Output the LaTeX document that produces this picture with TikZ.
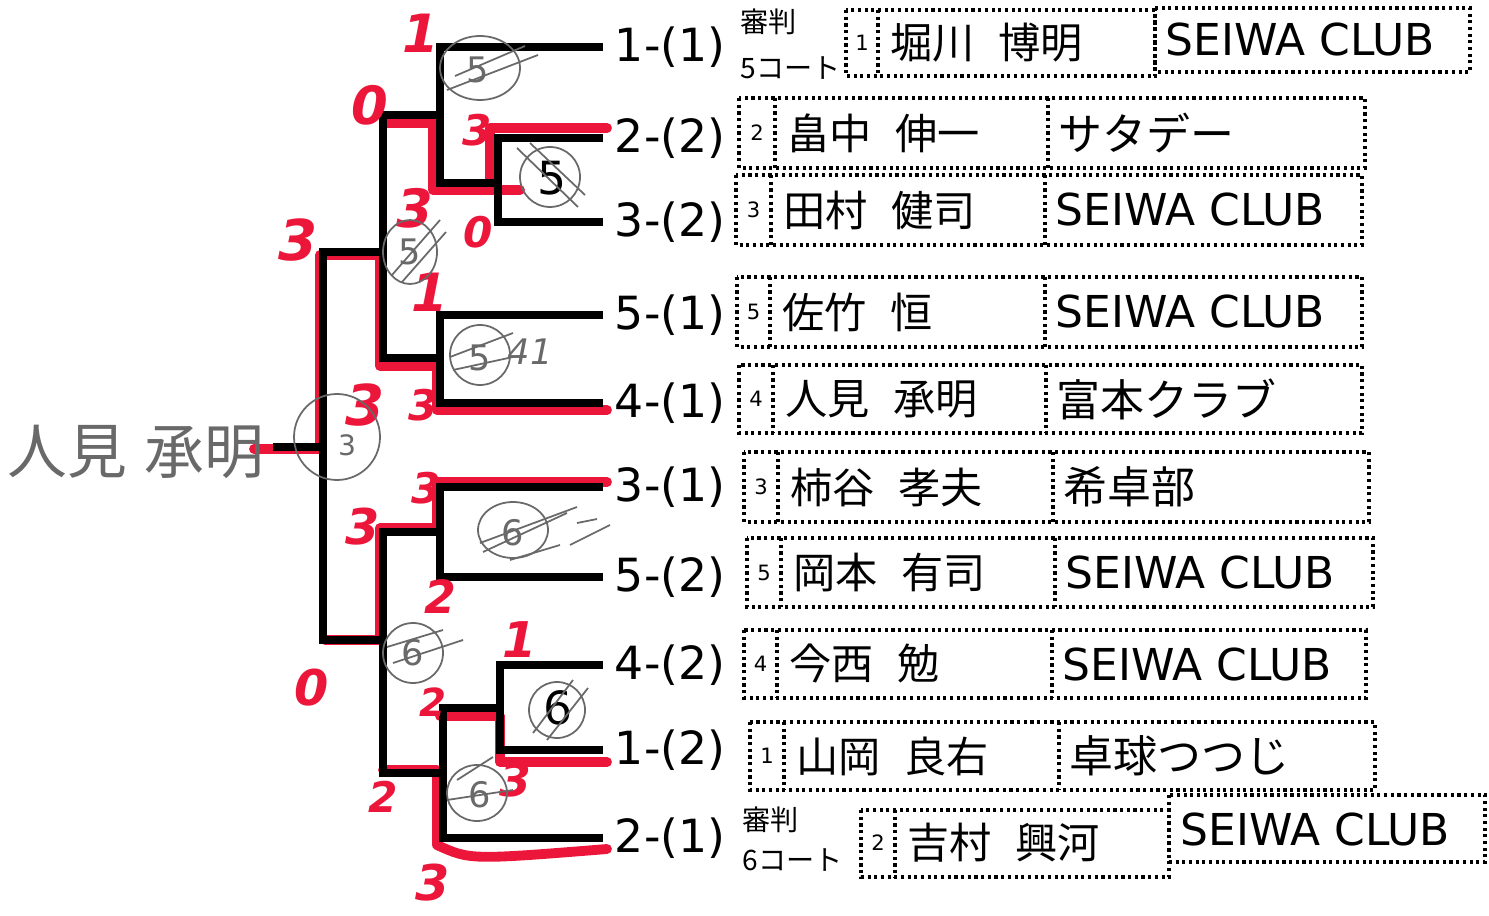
\documentclass[tikz,border=0pt]{standalone}
\usepackage{fontspec}
\setmainfont{DejaVu Sans}
\newfontfamily\jp{Noto Sans CJK JP}
\usepackage{tikz}
\usetikzlibrary{calc}
\definecolor{marker}{RGB}{236,22,58}
\definecolor{pencil}{RGB}{105,105,105}
\newcommand\gap{\hspace{.55em}}

\tikzset{
  bk/.style={line width=2pt},
  rd/.style={marker, line width=2.8pt, line cap=round, line join=round},
  box/.style={densely dotted, line width=.9pt},
  lbl/.style={anchor=west, inner xsep=3.2pt, inner ysep=0pt, font=\fontsize{13}{13}\selectfont},
  seed/.style={inner sep=0pt, font=\fontsize{6}{6}\selectfont},
  nm/.style={anchor=west, inner sep=0pt, font=\jp\fontsize{12}{13}\selectfont},
  club/.style={anchor=west, inner sep=0pt, font=\fontsize{12.5}{13}\selectfont},
  refnote/.style={anchor=west, inner sep=0pt, font=\jp\fontsize{8}{9}\selectfont},
  score/.style={marker, inner sep=0pt, font=\bfseries\itshape},
  pen/.style={pencil, line width=.5pt},
  pentxt/.style={pencil, inner sep=0pt, font=\fontsize{10}{10}\selectfont},
}

\begin{document}
\begin{tikzpicture}[x=0.01cm, y=-0.01cm]
    \useasboundingbox (0,0) rectangle (1489,916);

    % draw labels
    \node[lbl] (l1) at (603,47) {1-(1)};
    \node[lbl] (l2) at (603,138) {2-(2)};
    \node[lbl] (l3) at (603,222) {3-(2)};
    \node[lbl] (l4) at (603,315) {5-(1)};
    \node[lbl] (l5) at (603,403) {4-(1)};
    \node[lbl] (l6) at (603,487) {3-(1)};
    \node[lbl] (l7) at (603,577) {5-(2)};
    \node[lbl] (l8) at (603,665) {4-(2)};
    \node[lbl] (l9) at (603,750) {1-(2)};
    \node[lbl] (l10) at (603,838) {2-(1)};

    \coordinate (j23) at (498,183);
    \coordinate (q1) at (440,115);
    \coordinate (q2) at (440,358);
    \coordinate (s1) at (383,252);
    \coordinate (q3) at (440,532);
    \coordinate (j89) at (500,708);
    \coordinate (q4) at (443,773);
    \coordinate (s2) at (383,640);
    \coordinate (f) at (323,447);
    \coordinate (w) at (273,447);

    % marker
    \draw[rd] (607,128) -- (490,128) -- (490,190);
    \draw[rd] (520,190) -- (433,190) -- (433,123) -- (387,123);
    \draw[rd] (607,410) -- (437,410) -- (437,366) -- (380,366) -- (380,255) -- (320,255) -- (320,449) -- (254,449);
    \draw[rd] (607,482) -- (437,482) -- (437,528) -- (380,528) -- (380,640) -- (325,640);
    \draw[rd] (607,762) -- (500,762) -- (500,716) -- (440,716);
    \draw[rd] (383,770) -- (437,770) -- (437,845) .. controls (470,860) .. (607,849);

    % bracket
    \draw[bk] (l2.west) -| (j23) |- (l3.west);
    \draw[bk] (l1.west) -| (q1) |- (j23);
    \draw[bk] (l4.west) -| (q2) |- (l5.west);
    \draw[bk] (q1) -| (s1) |- (q2);
    \draw[bk] (l6.west) -| (q3) |- (l7.west);
    \draw[bk] (l8.west) -| (j89) |- (l9.west);
    \draw[bk] (j89) -| (q4) |- (l10.west);
    \draw[bk] (q3) -| (s2) |- (q4);
    \draw[bk] (s1) -| (f) |- (s2);
    \draw[bk] (f) -- (w);

    % entries
    \draw[box] (846,10) rectangle (1155,76);
    \draw[box] (878,10) -- (878,76);
    \draw[box] (1155,8) rectangle (1470,72);
    \node[seed] (sd1) at (862,43) {1};
    \node[nm] (pl1) at (890,43) {堀川\gap 博明};
    \node[club] (cb1) at (1165,40) {SEIWA CLUB};
    \node[refnote] (ref5) at (740,22) {審判};
    \node[refnote] (court5) at (740,68) {5コート};

    \foreach \i/\xa/\xb/\xc/\xd/\yt/\yb/\s/\nm/\cl in {
        2/739/775/1048/1365/98/168/2/畠中\gap 伸一/{\jp サタデー},
        3/736/771/1045/1362/175/245/3/田村\gap 健司/SEIWA CLUB,
        4/737/770/1045/1362/277/347/5/佐竹\gap 恒/SEIWA CLUB,
        5/739/773/1046/1362/365/433/4/人見\gap 承明/{\jp 富本クラブ},
        6/744/778/1053/1369/452/522/3/柿谷\gap 孝夫/{\jp 希卓部},
        7/747/781/1055/1373/538/607/5/岡本\gap 有司/SEIWA CLUB,
        8/744/777/1052/1366/630/698/4/今西\gap 勉/SEIWA CLUB,
        9/750/784/1059/1375/722/790/1/山岡\gap 良右/{\jp 卓球つつじ}} {
      \draw[box] (\xa,\yt) rectangle (\xd,\yb);
      \draw[box] (\xb,\yt) -- (\xb,\yb);
      \draw[box] (\xc,\yt) -- (\xc,\yb);
      \node[seed] (sd\i) at ({(\xa+\xb)/2},{(\yt+\yb)/2}) {\s};
      \node[nm] (pl\i) at (\xb+12,{(\yt+\yb)/2}) {\nm};
      \node[club] (cb\i) at (\xc+10,{(\yt+\yb)/2}) {\cl};
    }

    \draw[box] (861,810) rectangle (1169,877);
    \draw[box] (895,810) -- (895,877);
    \draw[box] (1169,795) rectangle (1485,862);
    \node[seed] (sd10) at (878,843) {2};
    \node[nm] (pl10) at (907,843) {吉村\gap 興河};
    \node[club] (cb10) at (1180,829) {SEIWA CLUB};
    \node[refnote] (ref6) at (742,820) {審判};
    \node[refnote] (court6) at (742,860) {6コート};

    % scores
    \foreach \t/\x/\y/\z [count=\k] in {1/421/33/15, 0/370/105/15, 3/477/130/12, 3/415/208/15,
        0/478/232/12, 3/298/240/16, 1/430/292/15, 3/365/405/16, 3/423/405/12,
        3/426/488/12, 3/363/527/14, 2/440/597/13, 0/312/688/14, 1/520/640/14,
        2/433/702/11, 3/515/780/13, 2/383/797/12, 3/433/883/14}
      \node[score] (sc\k) at (\x,\y) {\fontsize{\z}{\z}\selectfont\t};

    % pencil notes
    \draw[pen] (480,68) ellipse [x radius=40, y radius=32];
    \node[pentxt] (r1) at (478,70) {5};
    \draw[pen] (447,90) -- (538,55) (455,76) -- (525,46);
    \draw[pen] (550,177) circle [radius=30];
    \node[pentxt, black, font=\fontsize{13}{13}\selectfont] (r2) at (552,178) {5};
    \draw[pen] (517,148) -- (578,207) (530,143) -- (585,195);
    \draw[pen] (410,252) ellipse [x radius=27, y radius=32];
    \node[pentxt] (r3) at (410,252) {5};
    \draw[pen] (392,275) -- (440,220) (402,282) -- (446,232);
    \draw[pen] (480,355) circle [radius=30];
    \node[pentxt] (r4) at (480,358) {5};
    \draw[pen] (450,357) -- (513,333) (453,370) -- (513,357);
    \node[pentxt, font=\itshape\fontsize{10}{10}\selectfont] (r4b) at (530,352) {41};
    \draw[pen] (337,437) circle [radius=43];
    \node[pentxt, font=\fontsize{8}{8}\selectfont] (r5) at (347,445) {3};
    \draw[pen] (513,530) ellipse [x radius=35, y radius=28];
    \node[pentxt] (r6) at (513,533) {6};
    \draw[pen] (480,543) -- (577,507) (483,552) -- (567,513) (510,560) -- (560,545);
    \draw[pen] (577,523) -- (597,519) (570,545) -- (610,525);
    \draw[pen] (413,653) circle [radius=30];
    \node[pentxt] (r7) at (413,653) {6};
    \draw[pen] (387,647) -- (443,630) (393,663) -- (463,640);
    \draw[pen] (557,710) circle [radius=28];
    \node[pentxt, black, font=\fontsize{13}{13}\selectfont] (r8) at (558,708) {6};
    \draw[pen] (533,733) -- (573,680) (547,740) -- (588,688);
    \draw[pen] (477,793) ellipse [x radius=30, y radius=28];
    \node[pentxt] (r9) at (480,795) {6};
    \draw[pen] (447,800) -- (513,790) (457,780) -- (493,757);

    \node[pencil, inner sep=0pt, font=\jp\fontsize{17}{17}\selectfont] (winner) at (136,452) {人見\hspace{.3em}承明};
\end{tikzpicture}
\end{document}
